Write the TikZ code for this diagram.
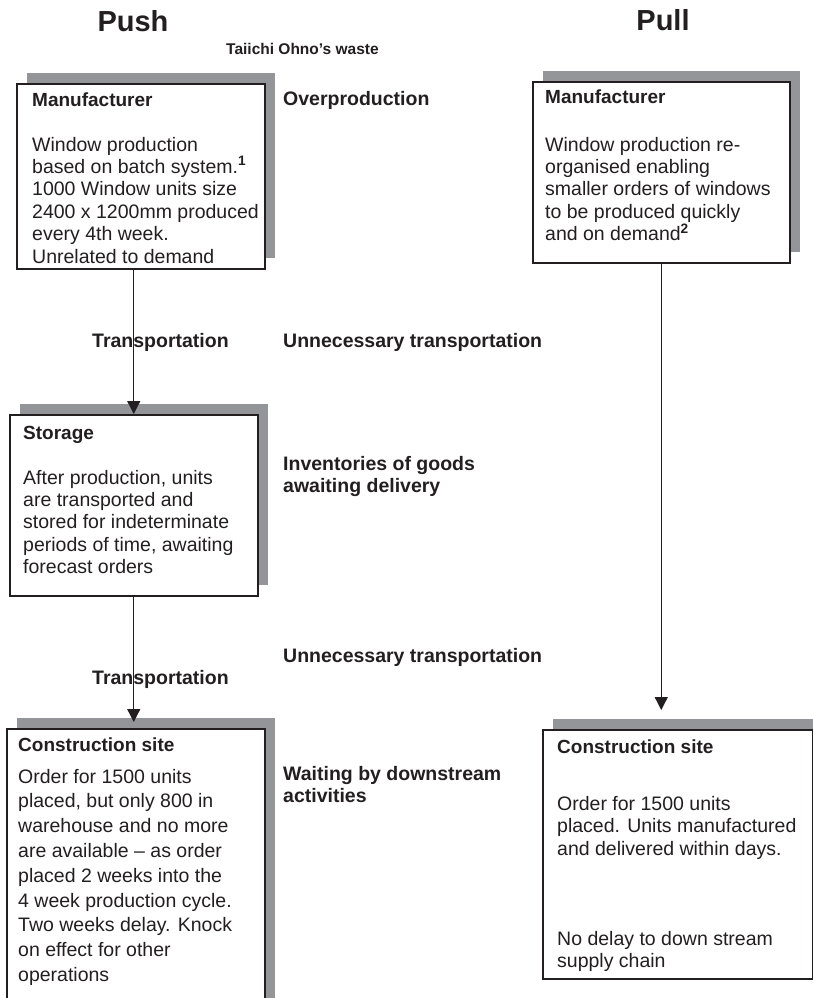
\documentclass[tikz,border=0pt]{standalone}
\usepackage{fontspec}
\setmainfont{Liberation Sans}
\usetikzlibrary{arrows.meta,shadows}
\definecolor{ink}{RGB}{35,31,32}
\definecolor{shadowgray}{RGB}{148,149,152}
\begin{document}
\begin{tikzpicture}[x=1pt,y=-1pt,
  panel/.style={draw=ink, line width=1.5pt, fill=white, inner sep=0pt, anchor=north west,
    drop shadow={shadow xshift=10pt, shadow yshift=11pt, opacity=1, fill=shadowgray}},
  title/.style={font=\bfseries\fontsize{29}{34}\selectfont, text=ink, inner sep=0pt, anchor=base},
  waste/.style={font=\bfseries\fontsize{19.5}{22.5}\selectfont, text=ink, inner sep=0pt, anchor=base west},
  head/.style={font=\bfseries\fontsize{19}{22.5}\selectfont, text=ink, inner sep=0pt, anchor=base west},
  body/.style={font=\fontsize{19.5}{22.4}\selectfont, text=ink, inner sep=0pt, anchor=base west},
  flow/.style={draw=ink, line width=1.3pt, -{Triangle[width=13pt,length=13pt]}},
]
% page
\path[use as bounding box, fill=white] (0,0) rectangle (813,998);

% column titles
\node[title] (push) at (133,32) {Push};
\node[title] (pull) at (663,31) {Pull};
\node[waste, font=\bfseries\fontsize{15.5}{18}\selectfont] (ohno) at (226,55) {Taiichi Ohno’s waste};

% push column boxes
\node[panel, minimum width=248pt, minimum height=185pt] (m1) at (16,83) {};
\node[panel, minimum width=248pt, minimum height=181pt] (s1) at (9,414) {};
\node[panel, minimum width=258pt, minimum height=280pt] (c1) at (6,728) {};

% pull column boxes
\node[panel, minimum width=257pt, minimum height=181pt] (m2) at (532,81) {};
\node[panel, minimum width=270pt, minimum height=249pt] (c2) at (542,729) {};

% box contents, push side
\node[head] (m1h) at (32,106) {Manufacturer};
\node[body] (m1b) at (32,151) {\parbox[t]{300pt}{Window production\\based on batch system.\textsuperscript{\textbf{1}}\\1000 Window units size\\2400 x 1200mm produced\\every 4th week.\\Unrelated to demand}};

\node[head] (s1h) at (23,439) {Storage};
\node[body] (s1b) at (23,484) {\parbox[t]{300pt}{After production, units\\are transported and\\stored for indeterminate\\periods of time, awaiting\\forecast orders}};

\node[head] (c1h) at (18,751) {Construction site};
\node[body, font=\fontsize{19.5}{24.8}\selectfont] (c1b) at (18,783) {\parbox[t]{300pt}{Order for 1500 units\\placed, but only 800 in\\warehouse and no more\\are available – as order\\placed 2 weeks into the\\4 week production cycle.\\Two weeks delay. Knock\\on effect for other\\operations}};

% box contents, pull side
\node[head] (m2h) at (545,103) {Manufacturer};
\node[body] (m2b) at (545,151) {\parbox[t]{300pt}{Window production re-\\organised enabling\\smaller orders of windows\\to be produced quickly\\and on demand\textsuperscript{\textbf{2}}}};

\node[head] (c2h) at (557,753) {Construction site};
\node[body, font=\fontsize{19.5}{22.5}\selectfont] (c2b) at (557,810) {\parbox[t]{300pt}{Order for 1500 units\\placed. Units manufactured\\and delivered within days.}};
\node[body, font=\fontsize{19.5}{22.5}\selectfont] (c2n) at (557,945) {\parbox[t]{300pt}{No delay to down stream\\supply chain}};

% waste categories
\node[waste] (over) at (283,105) {Overproduction};
\node[waste] (unn1) at (283,347) {Unnecessary transportation};
\node[waste] (inv) at (283,470) {\parbox[t]{300pt}{Inventories of goods\\awaiting delivery}};
\node[waste] (unn2) at (283,662) {Unnecessary transportation};
\node[waste] (wait) at (283,780) {\parbox[t]{300pt}{Waiting by downstream\\activities}};

% transport labels
\node[waste] (tr1) at (92,347) {Transportation};
\node[waste] (tr2) at (92,684) {Transportation};

% flows
\coordinate (pulltip) at (661,710);
\draw[flow] (m1.south -| s1.north) -- (s1.north);
\draw[flow, shorten >=6pt] (s1.south) -- (s1.south |- c1.north);
\draw[flow] (m2.south) -- (m2.south |- pulltip);
\end{tikzpicture}
\end{document}
